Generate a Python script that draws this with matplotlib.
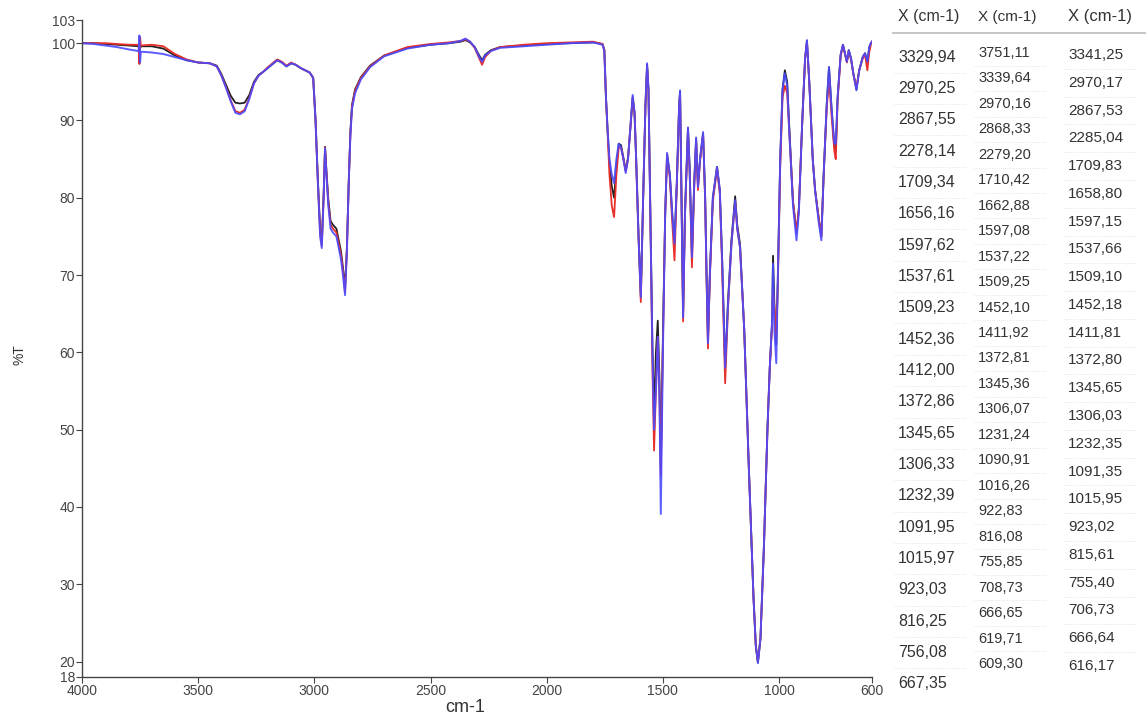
import matplotlib
matplotlib.use("Agg")
import matplotlib.pyplot as plt

# wavenumber grid (cm-1), shared by the three spectra
wn = [4000, 3950, 3900, 3850, 3800, 3760, 3756, 3753, 3750, 3747, 3700, 3650,
      3600, 3550, 3500, 3450, 3420, 3400, 3380, 3360, 3340, 3320, 3300, 3280, 3260,
      3240, 3220, 3200, 3180, 3160, 3140, 3120, 3100, 3080, 3060, 3040, 3020,
      3005, 2995, 2985, 2975, 2968, 2960, 2954, 2948, 2940, 2930, 2920, 2905,
      2895, 2885, 2875, 2868, 2860, 2852, 2845, 2838, 2825, 2800, 2760, 2700,
      2600, 2500, 2420, 2370, 2350, 2330, 2310, 2290, 2278, 2265, 2240, 2200,
      2100, 2000, 1900, 1800, 1760, 1752,
      1745, 1738, 1730, 1720, 1710, 1700, 1690, 1680, 1670, 1660, 1650, 1640,
      1630, 1622, 1615, 1605, 1595, 1585, 1575, 1568, 1562, 1555, 1545, 1538,
      1530, 1522, 1515, 1509, 1500, 1490, 1482,
      1470, 1460, 1450, 1440, 1430, 1426, 1420, 1413, 1405, 1392, 1385, 1375,
      1365, 1357, 1349, 1340, 1327, 1318, 1312, 1306, 1298, 1285, 1267, 1255,
      1245, 1232, 1220, 1205, 1189,
      1180, 1168, 1150, 1130, 1110, 1100, 1091, 1080, 1065, 1050, 1040, 1030,
      1026, 1020, 1012, 1005, 995, 985, 975,
      965, 955, 940, 925, 915, 900, 888, 880, 870, 855, 845, 830, 818, 808,
      795, 785, 775, 762, 756, 748, 735, 725, 715, 708, 700, 690, 680, 667,
      655, 640, 630, 620, 612, 605, 600]

t_black = [100.0, 100.0, 99.9, 99.8, 99.7, 99.6, 99.6, 99.8, 99.3, 99.6, 99.6, 99.3,
           98.4, 97.8, 97.5, 97.4, 97.1, 96.0, 94.6, 93.2, 92.3, 92.2, 92.3, 93.3, 95.0,
           95.9, 96.3, 96.8, 97.3, 97.8, 97.5, 97.0, 97.4, 97.2, 96.8, 96.5, 96.2,
           95.5, 90.2, 82.5, 75.8, 74.3, 80.5, 86.6, 83.5, 79.8, 77.0, 76.5, 76.0,
           74.5, 73.0, 70.5, 68.2, 73.5, 82.0, 88.5, 92.0, 94.0, 95.6, 97.1, 98.4,
           99.4, 99.8, 100.0, 100.2, 100.4, 100.1, 99.5, 98.4, 97.8, 98.5, 99.1, 99.5,
           99.7, 99.9, 100.0, 100.1, 99.9, 99.2,
           93.0, 88.8, 84.5, 81.5, 80.0, 84.0, 87.0, 86.8, 85.2, 83.5, 85.2, 89.0,
           93.0, 91.0, 85.0, 75.5, 67.5, 80.0, 92.0, 97.2, 94.0, 80.0, 61.0, 52.0,
           60.0, 64.1, 57.0, 45.0, 62.0, 78.0, 85.6,
           83.0, 78.0, 74.0, 82.0, 92.0, 93.7, 80.0, 65.0, 78.0, 89.0, 84.0, 72.5,
           82.0, 87.6, 81.5, 85.0, 88.3, 80.0, 70.0, 61.5, 70.0, 80.0, 84.0, 81.0,
           72.0, 58.0, 66.5, 74.5, 80.2,
           76.5, 74.0, 63.0, 45.0, 28.3, 22.0, 19.9, 23.0, 35.0, 50.0, 58.0, 64.0,
           72.5, 66.0, 61.0, 70.0, 85.0, 94.0, 96.5,
           95.0, 88.5, 79.5, 75.5, 78.5, 90.0, 98.0, 100.3, 95.0, 85.0, 81.0, 77.5, 75.0, 83.0,
           92.0, 96.9, 92.0, 86.5, 86.0, 93.0, 98.5, 99.8, 98.5, 97.6, 99.1, 98.0, 96.0, 94.0,
           96.5, 98.2, 98.7, 97.5, 99.4, 100.0, 100.2]

t_red = [100.0, 100.0, 100.0, 99.9, 99.8, 99.8, 99.7, 97.3, 100.8, 99.7, 99.8, 99.6,
         98.6, 97.9, 97.5, 97.4, 97.0, 95.8, 94.3, 92.6, 91.2, 91.0, 91.4, 92.9, 94.8,
         95.8, 96.3, 96.9, 97.4, 97.9, 97.6, 97.1, 97.5, 97.2, 96.8, 96.5, 96.2,
         95.5, 90.0, 82.2, 75.3, 73.8, 80.2, 86.5, 83.2, 79.4, 76.5, 76.0, 75.5,
         74.0, 72.5, 70.0, 67.8, 73.2, 82.0, 88.2, 91.8, 93.8, 95.5, 97.0, 98.4,
         99.5, 99.9, 100.1, 100.3, 100.5, 100.2, 99.4, 98.0, 97.2, 98.2, 99.0, 99.5,
         99.8, 100.0, 100.1, 100.2, 99.9, 99.1,
         93.0, 88.5, 83.0, 79.0, 77.5, 83.0, 86.5, 86.5, 85.0, 83.5, 85.0, 89.0,
         93.0, 91.0, 85.0, 75.0, 66.5, 80.0, 92.0, 97.0, 94.0, 80.0, 58.0, 47.3,
         55.0, 62.0, 55.0, 44.0, 61.0, 78.0, 85.5,
         82.5, 77.0, 71.9, 81.5, 92.0, 93.5, 79.5, 64.0, 77.5, 88.8, 83.5, 71.0,
         81.5, 87.5, 81.0, 84.8, 88.2, 79.5, 69.5, 60.5, 69.5, 79.5, 83.8, 80.5,
         71.0, 56.0, 65.5, 74.0, 79.5,
         76.0, 73.5, 63.0, 45.0, 28.3, 22.0, 20.0, 23.0, 35.0, 50.0, 58.0, 63.5,
         68.0, 66.0, 62.0, 69.0, 84.0, 93.0, 94.5,
         93.5, 88.0, 79.5, 75.5, 78.5, 90.0, 98.0, 100.2, 95.0, 85.0, 81.0, 77.5, 75.0, 83.0,
         91.5, 95.5, 91.0, 86.0, 85.0, 92.5, 98.3, 99.7, 98.4, 97.5, 99.0, 97.8, 96.0, 94.3,
         96.5, 98.0, 98.5, 96.5, 98.8, 99.8, 100.2]

t_blue = [100.0, 99.9, 99.7, 99.5, 99.2, 99.0, 98.9, 101.0, 97.5, 98.9, 98.8, 98.6,
          98.2, 97.8, 97.5, 97.4, 97.0, 95.8, 94.2, 92.5, 91.0, 90.8, 91.2, 92.8, 94.8,
          95.8, 96.3, 96.8, 97.3, 97.8, 97.5, 97.0, 97.4, 97.2, 96.8, 96.5, 96.2,
          95.5, 90.0, 82.0, 75.0, 73.5, 80.0, 86.4, 83.0, 79.0, 76.0, 75.5, 75.0,
          73.5, 72.0, 69.5, 67.4, 73.0, 82.0, 88.0, 91.5, 93.5, 95.3, 96.9, 98.3,
          99.3, 99.8, 100.0, 100.3, 100.6, 100.2, 99.5, 98.2, 97.6, 98.4, 99.0, 99.4,
          99.6, 99.8, 100.0, 100.1, 99.8, 99.0,
          93.0, 88.8, 85.0, 83.0, 81.9, 85.0, 87.0, 86.5, 85.0, 83.2, 85.0, 89.0,
          93.3, 91.0, 85.0, 75.0, 67.1, 80.0, 92.0, 97.4, 94.0, 80.0, 60.0, 50.0,
          55.0, 62.0, 55.0, 39.1, 60.0, 78.0, 85.8,
          83.0, 78.0, 74.1, 82.0, 92.0, 93.9, 80.0, 64.5, 78.0, 89.1, 84.0, 72.3,
          82.0, 87.8, 81.4, 85.0, 88.5, 80.0, 70.0, 61.2, 70.0, 80.0, 84.0, 81.0,
          72.0, 58.0, 66.0, 74.0, 79.7,
          76.0, 73.6, 63.0, 45.0, 28.3, 22.0, 19.8, 23.0, 35.0, 50.0, 58.0, 64.0,
          71.5, 63.0, 58.6, 70.0, 85.0, 94.0, 96.1,
          94.5, 88.0, 79.0, 74.5, 78.0, 90.0, 98.0, 100.4, 95.0, 85.0, 81.0, 77.0, 74.5, 83.0,
          92.0, 96.9, 92.0, 87.0, 87.0, 93.0, 98.5, 99.8, 98.5, 97.6, 99.1, 98.0, 96.0, 93.9,
          96.5, 98.2, 98.7, 97.6, 99.5, 100.0, 100.2]

# peak tables shown on the right
peaks1 = ["3329,94", "2970,25", "2867,55", "2278,14", "1709,34", "1656,16", "1597,62",
          "1537,61", "1509,23", "1452,36", "1412,00", "1372,86", "1345,65", "1306,33",
          "1232,39", "1091,95", "1015,97", "923,03", "816,25", "756,08", "667,35"]
peaks2 = ["3751,11", "3339,64", "2970,16", "2868,33", "2279,20", "1710,42", "1662,88",
          "1597,08", "1537,22", "1509,25", "1452,10", "1411,92", "1372,81", "1345,36",
          "1306,07", "1231,24", "1090,91", "1016,26", "922,83", "816,08", "755,85",
          "708,73", "666,65", "619,71", "609,30"]
peaks3 = ["3341,25", "2970,17", "2867,53", "2285,04", "1709,83", "1658,80", "1597,15",
          "1537,66", "1509,10", "1452,18", "1411,81", "1372,80", "1345,65", "1306,03",
          "1232,35", "1091,35", "1015,95", "923,02", "815,61", "755,40", "706,73",
          "666,64", "616,17"]

W, H = 1146, 718
fig = plt.figure(figsize=(W / 100, H / 100), dpi=100)
ax = fig.add_axes([82 / W, 1 - 677 / H, (872 - 82) / W, (677 - 20) / H])

ax.plot(wn, t_black, color="#222222", lw=1.3)
ax.plot(wn, t_red, color="#e8302a", lw=1.3)
ax.plot(wn, t_blue, color="#4a4aff", lw=1.4, alpha=0.9)

ax.set_xlim(4000, 600)
ax.set_ylim(18, 103)
ax.set_xticks([4000, 3500, 3000, 2500, 2000, 1500, 1000, 600])
ax.set_yticks([18, 20, 30, 40, 50, 60, 70, 80, 90, 100, 103])
for s in ["top", "right"]:
    ax.spines[s].set_visible(False)
for s in ["left", "bottom"]:
    ax.spines[s].set_color("#444444")
    ax.spines[s].set_linewidth(1.0)
ax.tick_params(colors="#444444", labelsize=10, length=4, width=0.8, pad=1)
for lab in ax.get_xticklabels() + ax.get_yticklabels():
    lab.set_fontfamily("Liberation Sans")
    lab.set_color("#444444")

fig.text(465 / W, 1 - 708 / H, "cm-1", ha="center", va="center",
         fontsize=13, color="#333333", family="Liberation Sans")
fig.text(20 / W, 1 - 355 / H, "%T", ha="center", va="center", rotation=90,
         fontsize=10, color="#333333", family="Liberation Sans")

# peak table
cols = [(peaks1, 898, 57, 684, 11.5, 11.5), (peaks2, 978, 53, 664, 10.5, 11.0),
        (peaks3, 1068, 55, 666, 11.0, 12.0)]
for i, (vals, x0, y0, y1, fs, hfs) in enumerate(cols):
    fig.text(x0 / W, 1 - 17 / H, "X (cm-1)", ha="left", va="center",
             fontsize=hfs, color="#333333", family="Liberation Sans")
    step = (y1 - y0) / (len(vals) - 1)
    for j, v in enumerate(vals):
        yy = y0 + j * step
        fig.text(x0 / W, 1 - yy / H, v, ha="left", va="center",
                 fontsize=fs, color="#333333", family="Liberation Sans")
        if j < len(vals) - 1:
            fig.add_artist(plt.Line2D([(x0 - 4) / W, (x0 + 68) / W],
                                      [1 - (yy + step / 2) / H] * 2,
                                      color="#dddddd", lw=0.6, ls=":"))
fig.add_artist(plt.Line2D([893 / W, 1146 / W], [1 - 33 / H] * 2, color="#bbbbbb", lw=1.2))

fig.savefig("out.png", dpi=100)
